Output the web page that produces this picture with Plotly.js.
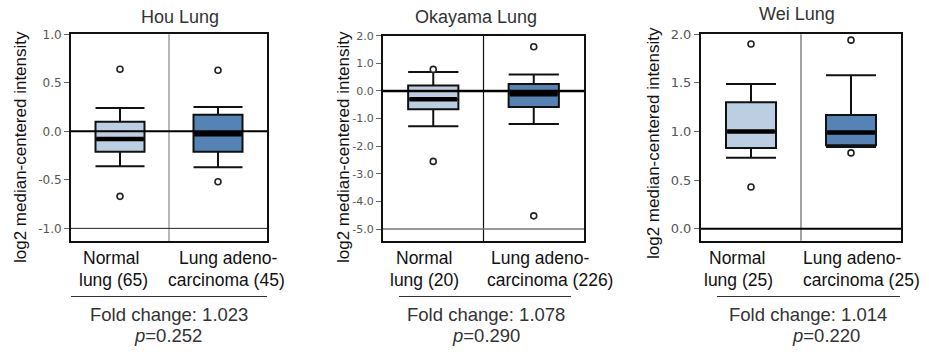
<!DOCTYPE html>
<html>
<head>
<meta charset="utf-8">
<script src="https://cdn.plot.ly/plotly-3.0.1.min.js"></script>
<style>html,body{margin:0;padding:0;background:#fff}#chart{width:929px;height:354px}</style>
</head>
<body>
<div id="chart"></div>
<script>
// ---------- data ----------
const groups = ['Normal', 'Tumor'];
const panelTitles = ['Hou Lung', 'Okayama Lung', 'Wei Lung'];
const catLine1 = ['Normal', 'Lung adeno-'];
const catLine2Hou = ['lung (65)', 'carcinoma (45)'];
const catLine2Okayama = ['lung (20)', 'carcinoma (226)'];
const catLine2Wei = ['lung (25)', 'carcinoma (25)'];
const foldChanges = ['1.023', '1.078', '1.014'];
const pValues = ['0.252', '0.290', '0.220'];

// tick labels
const houTicks = [-1.0, -0.5, 0.0, 0.5, 1.0];
const houTickText = ['-1.0', '-0.5', '0.0', '0.5', '1.0'];
const okaTicks = [-5, -4, -3, -2, -1, 0, 1, 2];
const okaTickText = ['-5.0', '-4.0', '-3.0', '-2.0', '-1.0', '0.0', '1.0', '2.0'];
const weiTicks = [0.0, 0.5, 1.0, 1.5, 2.0];
const weiTickText = ['0.0', '0.5', '1.0', '1.5', '2.0'];

// Hou Lung
const houLow = [-0.36, -0.37];
const houQ1 = [-0.21, -0.21];
const houMedian = [-0.08, -0.03];
const houQ3 = [0.10, 0.17];
const houHigh = [0.24, 0.25];
const houOutX = ['Normal', 'Normal', 'Tumor', 'Tumor'];
const houOutY = [0.64, -0.67, 0.63, -0.52];

// Okayama Lung
const okaLow = [-1.28, -1.20];
const okaQ1 = [-0.66, -0.58];
const okaMedian = [-0.30, -0.12];
const okaQ3 = [0.20, 0.25];
const okaHigh = [0.69, 0.60];
const okaOutX = ['Normal', 'Normal', 'Tumor', 'Tumor'];
const okaOutY = [0.78, -2.55, 1.60, -4.52];

// Wei Lung
const weiLow = [0.73, 0.84];
const weiQ1 = [0.83, 0.86];
const weiMedian = [1.00, 0.99];
const weiQ3 = [1.30, 1.17];
const weiHigh = [1.49, 1.58];
const weiOutX = ['Normal', 'Normal', 'Tumor', 'Tumor'];
const weiOutY = [1.90, 0.43, 1.94, 0.78];

// ---------- styling / layout helpers ----------
const W = 929, H = 354;
const px = x => x / W;
const py = y => 1 - y / H;
const fills = ['#bccee1', '#5683b6'];
const FONT = 'Liberation Sans, Arial, sans-serif';
const TICKFONT = 'DejaVu Sans, Verdana, sans-serif';

const panels = [
  {ax: '', low: houLow, q1: houQ1, med: houMedian, q3: houQ3, high: houHigh, ox: houOutX, oy: houOutY,
   dom: [71, 267], ydom: [34.3, 241], range: [-1.13, 1.0], tv: houTicks, tt: houTickText, rdtick: 0.5, tickSize: 12,
   divColor: '#888', lines: [{y: 0, c: '#000', w: 2}, {y: -1, c: '#222', w: 1}],
   line2: catLine2Hou, l1x: [111, 228], l2x: [113, 226], titleX: 180, titleY: 17,
   ytX: 20, ytY: 147, ulx: [71, 267], fcx: 169, pvx: 168},
  {ax: '2', low: okaLow, q1: okaQ1, med: okaMedian, q3: okaQ3, high: okaHigh, ox: okaOutX, oy: okaOutY,
   dom: [383, 584], ydom: [35.7, 241], range: [-5.43, 2.0], tv: okaTicks, tt: okaTickText, rdtick: 0.5, tickSize: 11,
   divColor: '#111', lines: [{y: 0, c: '#000', w: 2.5}, {y: -5, c: '#777', w: 1.5}],
   line2: catLine2Okayama, l1x: [424, 540], l2x: [424, 550], titleX: 476, titleY: 17,
   ytX: 343, ytY: 147, ulx: [399, 571], fcx: 486, pvx: 486},
  {ax: '3', low: weiLow, q1: weiQ1, med: weiMedian, q3: weiQ3, high: weiHigh, ox: weiOutX, oy: weiOutY,
   dom: [701, 901], ydom: [34.3, 240.7], range: [-0.123, 2.0], tv: weiTicks, tt: weiTickText, rdtick: 0.5, tickSize: 13,
   divColor: '#666', lines: [{y: 0, c: '#000', w: 2}],
   line2: catLine2Wei, l1x: [737, 852], l2x: [738, 861], titleX: 797, titleY: 14,
   ytX: 653, ytY: 143, ulx: [717, 900], fcx: 808, pvx: 826}
];

const traces = [];
const layout = {
  width: W, height: H, margin: {l: 0, r: 0, t: 0, b: 0},
  paper_bgcolor: '#fff', plot_bgcolor: '#fff', showlegend: false,
  boxmode: 'overlay', shapes: [], annotations: []
};

panels.forEach((p, i) => {
  const xa = 'x' + p.ax, ya = 'y' + p.ax;
  const rightAxisNum = 4 + i;
  groups.forEach((g, k) => {
    traces.push({
      type: 'box', x: [g], q1: [p.q1[k]], median: [p.med[k]], q3: [p.q3[k]],
      lowerfence: [p.low[k]], upperfence: [p.high[k]],
      xaxis: xa, yaxis: ya, width: 0.5, whiskerwidth: 1, boxpoints: false,
      fillcolor: fills[k], line: {color: '#111', width: 2}, hoverinfo: 'skip'
    });
  });
  traces.push({
    type: 'scatter', mode: 'markers', x: groups, y: p.med, xaxis: xa, yaxis: ya,
    marker: {symbol: 'line-ew', size: 34, color: '#000', line: {width: 4.5, color: '#000'}},
    hoverinfo: 'skip'
  });
  traces.push({
    type: 'scatter', mode: 'markers', x: p.ox, y: p.oy, xaxis: xa, yaxis: ya,
    marker: {symbol: 'circle', size: 6, color: '#fff', line: {width: 1.6, color: '#222'}},
    hoverinfo: 'skip'
  });

  const xKey = 'xaxis' + p.ax, yKey = 'yaxis' + p.ax;
  layout[xKey] = {
    domain: [px(p.dom[0]), px(p.dom[1])], anchor: ya, type: 'category',
    categoryorder: 'array', categoryarray: groups, range: [-0.5, 1.5],
    showline: true, mirror: true, linecolor: '#111', linewidth: 2,
    ticks: '', showticklabels: false, showgrid: false, zeroline: false, fixedrange: true
  };
  layout[yKey] = {
    domain: [py(p.ydom[1]), py(p.ydom[0])], anchor: xa, range: p.range,
    tickmode: 'array', tickvals: p.tv, ticktext: p.tt,
    showline: true, mirror: true, linecolor: '#111', linewidth: 2,
    ticks: 'outside', ticklen: 5, tickwidth: 1, tickcolor: '#666',
    tickfont: {family: TICKFONT, size: p.tickSize, color: '#555'},
    showgrid: false, zeroline: false, fixedrange: true
  };
  layout['yaxis' + rightAxisNum] = {
    overlaying: ya, side: 'right', anchor: xa, range: p.range, dtick: p.rdtick, tick0: 0,
    ticks: 'outside', ticklen: 4, tickwidth: 1, tickcolor: '#666',
    showticklabels: false, showline: false, showgrid: false, zeroline: false, fixedrange: true
  };

  // divider between the two groups
  layout.shapes.push({type: 'line', xref: xa, yref: ya + ' domain', x0: 0.5, x1: 0.5, y0: 0, y1: 1,
    line: {color: p.divColor, width: 1.2}, layer: 'above'});
  // reference lines
  p.lines.forEach(l => layout.shapes.push({type: 'line', xref: xa + ' domain', yref: ya,
    x0: 0, x1: 1, y0: l.y, y1: l.y, line: {color: l.c, width: l.w}, layer: 'above'}));
  // underline beneath category labels
  layout.shapes.push({type: 'line', xref: 'paper', yref: 'paper', x0: px(p.ulx[0]), x1: px(p.ulx[1]),
    y0: py(296.5), y1: py(296.5), line: {color: '#333', width: 1}});

  const ann = (text, x, y, size, color, extra) => layout.annotations.push(Object.assign({
    text, x: px(x), y: py(y), xref: 'paper', yref: 'paper', showarrow: false,
    xanchor: 'center', yanchor: 'middle', font: {family: FONT, size, color}
  }, extra || {}));

  ann(panelTitles[i], p.titleX, p.titleY, 18, '#333');
  ann('log2 median-centered intensity', p.ytX, p.ytY, 17, '#111', {textangle: -90});
  groups.forEach((g, k) => {
    ann(catLine1[k], p.l1x[k], 258, 17.5, '#111');
    ann(p.line2[k], p.l2x[k], 279.5, 17.5, '#111');
  });
  ann('Fold change: ' + foldChanges[i], p.fcx, 314, 18.5, '#333');
  ann('<i>p</i>=' + pValues[i], p.pvx, 335, 18.5, '#333');
});

Plotly.newPlot('chart', traces, layout, {staticPlot: true, displayModeBar: false});
</script>
</body>
</html>
